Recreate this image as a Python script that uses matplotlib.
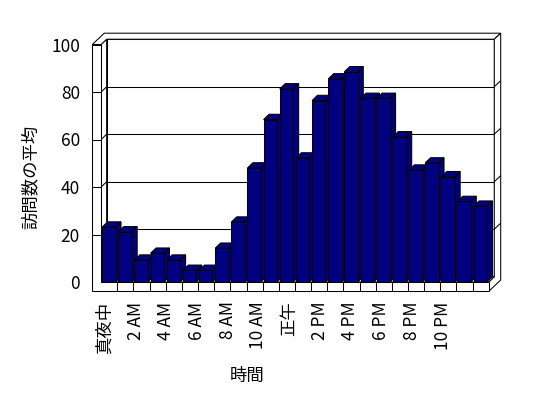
import matplotlib
matplotlib.use("Agg")
import matplotlib.pyplot as plt
from matplotlib.patches import Polygon

plt.rcParams['font.family'] = ['Noto Sans CJK JP', 'DejaVu Sans']

# ---- data ----
hours = list(range(24))
visits = [23.1, 21.1, 9.2, 12.1, 9.2, 4.9, 4.9, 14.2, 25.2, 48.0, 68.4, 81.3,
          52.2, 76.4, 85.5, 88.5, 77.3, 77.3, 61.1, 47.1, 50.1, 44.3, 33.9, 31.9]
tick_hours = [0, 2, 4, 6, 8, 10, 12, 14, 16, 18, 20, 22]
tick_labels = ['真夜中', '2 AM', '4 AM', '6 AM', '8 AM', '10 AM', '正午',
               '2 PM', '4 PM', '6 PM', '8 PM', '10 PM']
yticks = [0, 20, 40, 60, 80, 100]
xlabel = '時間'
ylabel = '訪問数の平均'

# ---- style / geometry (data units) ----
W, H, DPI = 548, 398, 100
bar_color = '#000080'
edge = 'black'
lw = 0.75
fs = 12.5
n = len(hours)
ymax = yticks[-1]
Dx, Dy = 0.34, 2.23      # depth from front plane to back wall
Tx, Ty = 0.40, 2.53      # back wall thickness
Lw = 0.548               # left wall thickness
Ft = 3.92                # floor thickness
b0, b1 = 0.06, 0.89      # bar front face extent inside a category

fig = plt.figure(figsize=(W / DPI, H / DPI), dpi=DPI)
ax = fig.add_axes([101.15 / W, 1 - 282 / H, 387.6 / W, 237.5 / H])
ax.set_xlim(0, n)
ax.set_ylim(0, ymax)
for s in ax.spines.values():
    s.set_visible(False)


def poly(pts, fc='white', z=1):
    ax.add_patch(Polygon(pts, closed=True, facecolor=fc, edgecolor=edge,
                         linewidth=lw, clip_on=False, zorder=z, joinstyle='miter'))


def line(xs, ys, z=2):
    ax.plot(xs, ys, color=edge, linewidth=lw, clip_on=False, zorder=z,
            solid_capstyle='butt')


# back wall
poly([(Dx, Dy), (n + Dx, Dy), (n + Dx, ymax + Dy), (Dx, ymax + Dy)], z=1)
# left wall inner face
poly([(0, 0), (0, ymax), (Dx, ymax + Dy), (Dx, Dy)], z=1)
# top face (left wall + back wall)
poly([(-Lw, ymax), (0, ymax), (Dx, ymax + Dy), (n + Dx, ymax + Dy),
      (n + Dx + Tx, ymax + Dy + Ty), (-Lw + Dx + Tx, ymax + Dy + Ty)], z=1)
# right side face (floor + back wall)
poly([(n, -Ft), (n + Dx + Tx, -Ft + Dy + Ty), (n + Dx + Tx, ymax + Dy + Ty),
      (n + Dx, ymax + Dy), (n + Dx, Dy), (n, 0)], z=1)
# floor top
poly([(0, 0), (n, 0), (n + Dx, Dy), (Dx, Dy)], z=1)

# gridlines
for v in yticks[1:-1]:
    line([Dx, n + Dx], [v + Dy, v + Dy], z=2)
    line([0, Dx], [v, v + Dy], z=2)
    line([n + Dx, n + Dx + Tx], [v + Dy, v + Dy + Ty], z=2)

# bars (front faces through ax.bar, 3D faces as polygons)
for i, v in enumerate(visits):
    z = 10 + i
    xl, xr = i + b0, i + b1
    poly([(xr, 0), (xr + Dx, Dy), (xr + Dx, v + Dy), (xr, v)], fc=bar_color, z=z)
    poly([(xl, v), (xr, v), (xr + Dx, v + Dy), (xl + Dx, v + Dy)], fc=bar_color, z=z)
    ax.bar(xl, v, width=xr - xl, align='edge', color=bar_color, edgecolor=edge,
           linewidth=lw, zorder=z + 0.5, clip_on=False)

# front L (left wall front + floor front)
poly([(-Lw, -Ft), (n, -Ft), (n, 0), (0, 0), (0, ymax), (-Lw, ymax)], z=50)
for v in yticks[1:-1]:
    line([-Lw, 0], [v, v], z=51)
for i in range(1, n):
    line([i, i], [-Ft, 0], z=51)

# tick labels
ax.set_yticks(yticks)
ax.set_yticklabels([str(t) for t in yticks], fontsize=fs)
ax.tick_params(axis='y', length=0, pad=15.2)
label_pos = [0.238 + 0.95 * h for h in tick_hours]
ax.set_xticks(label_pos)
ax.set_xticklabels(tick_labels, rotation=90, fontsize=fs)
ax.tick_params(axis='x', length=0, pad=14.0)

fig.text(246.7 / W, 1 - 376 / H, xlabel, ha='center', va='center', fontsize=fs)
fig.text(31 / W, 1 - 177 / H, ylabel, ha='center', va='center', rotation=90,
         fontsize=fs)

fig.savefig('out.png', dpi=DPI, facecolor='white')
